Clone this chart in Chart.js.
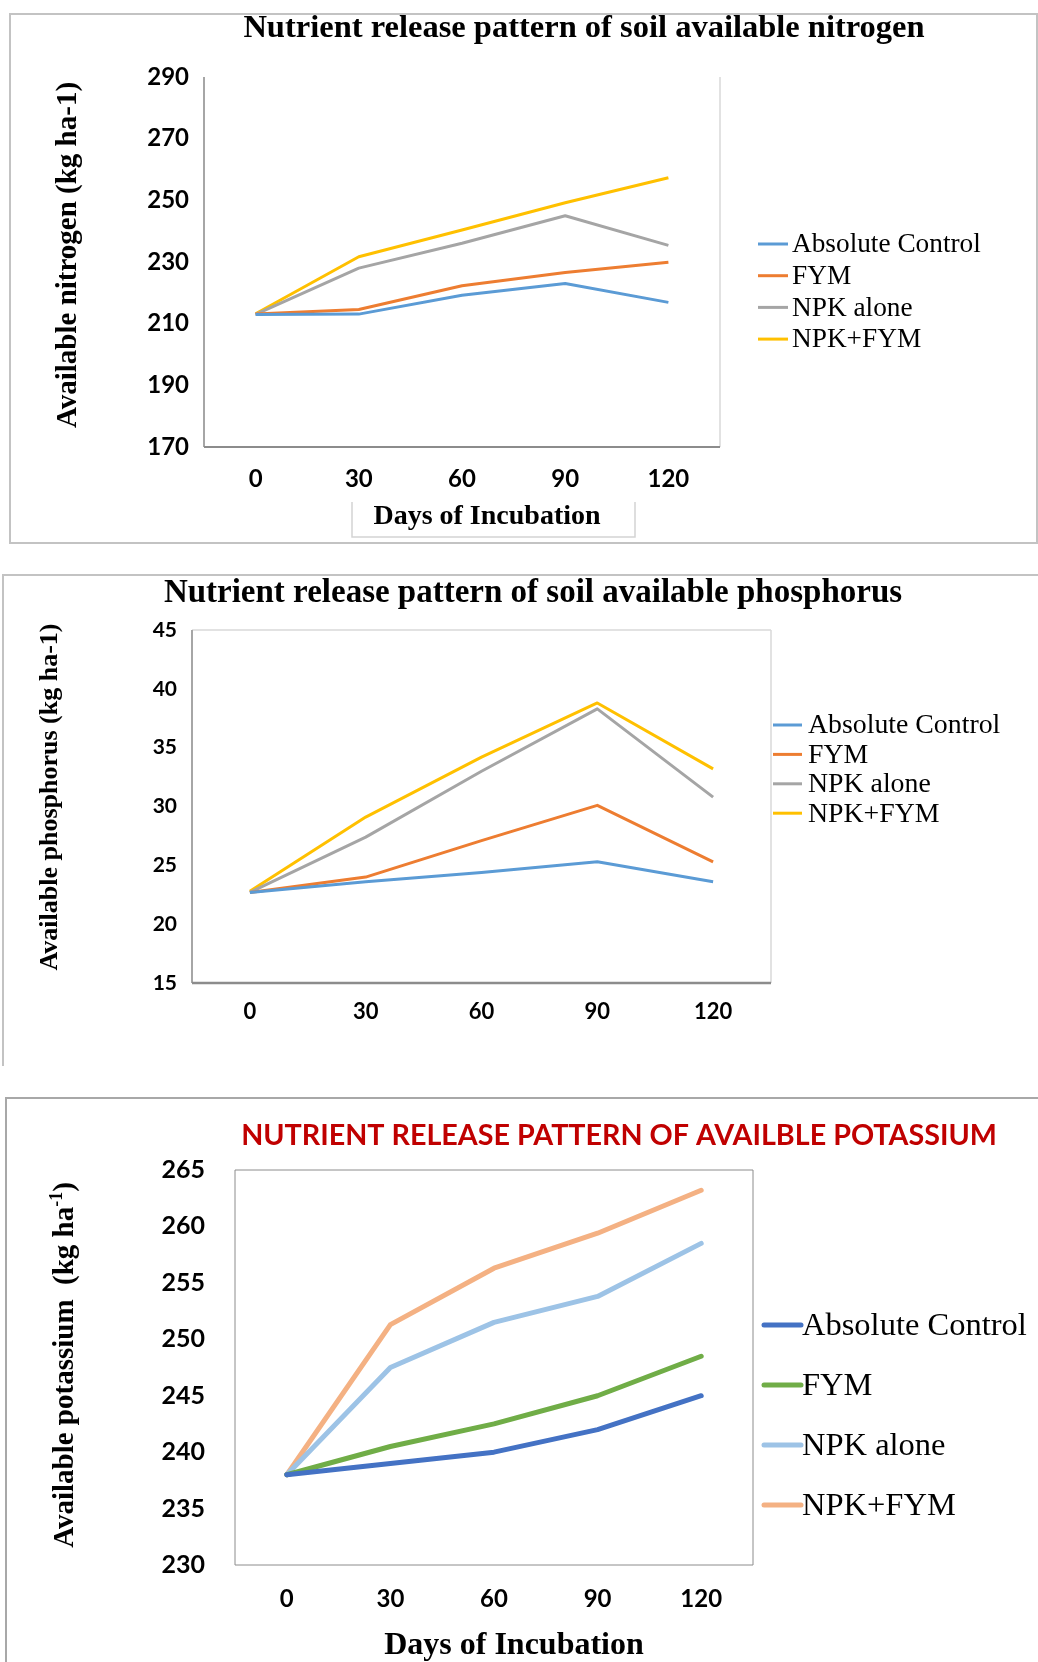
<!DOCTYPE html>
<html>
<head>
<meta charset="utf-8">
<script src="https://cdn.jsdelivr.net/npm/chart.js@4.4.1/dist/chart.umd.min.js"></script>
<style>
  html, body { margin: 0; padding: 0; background: #ffffff; }
  body { width: 1038px; height: 1662px; position: relative; overflow: hidden; }
  canvas { position: absolute; left: 0; }
  .ln { position: absolute; background: #c3c3c3; }
</style>
</head>
<body>
<div class="ln" style="left:9px;top:13px;width:1028px;height:1.5px;"></div>
<div class="ln" style="left:9px;top:542px;width:1028px;height:1.5px;"></div>
<div class="ln" style="left:9px;top:13px;width:1.5px;height:531px;"></div>
<div class="ln" style="left:1036px;top:13px;width:1.5px;height:531px;"></div>

<div class="ln" style="left:2px;top:574px;width:1036px;height:1.5px;"></div>
<div class="ln" style="left:2px;top:574px;width:1.5px;height:492px;"></div>

<div class="ln" style="left:5px;top:1097px;width:1033px;height:1.5px;background:#a8a8a8;"></div>
<div class="ln" style="left:5px;top:1097px;width:1.5px;height:565px;background:#a8a8a8;"></div>

<canvas id="c1" width="1038" height="560" style="top:0px"></canvas>
<canvas id="c2" width="1038" height="520" style="top:560px"></canvas>
<canvas id="c3" width="1038" height="582" style="top:1080px"></canvas>

<script>
// ---------- data ----------
const days = ['0', '30', '60', '90', '120'];
const seriesNames = ['Absolute Control', 'FYM', 'NPK alone', 'NPK+FYM'];

const nitrogenControl = [213.0, 213.1, 219.2, 223.0, 216.9];
const nitrogenFYM     = [213.1, 214.6, 222.3, 226.6, 229.9];
const nitrogenNPK     = [213.0, 228.0, 236.1, 245.0, 235.4];
const nitrogenNPKFYM  = [213.2, 231.7, 240.4, 249.2, 257.3];
const nitrogenTicks   = [170, 190, 210, 230, 250, 270, 290];

const phosphorusControl = [22.7, 23.6, 24.4, 25.3, 23.6];
const phosphorusFYM     = [22.7, 24.0, 27.1, 30.1, 25.3];
const phosphorusNPK     = [22.7, 27.4, 33.0, 38.3, 30.8];
const phosphorusNPKFYM  = [22.8, 29.1, 34.2, 38.8, 33.2];
const phosphorusTicks   = [15, 20, 25, 30, 35, 40, 45];

const potassiumControl = [238.0, 239.0, 240.0, 242.0, 245.0];
const potassiumFYM     = [238.0, 240.5, 242.5, 245.0, 248.5];
const potassiumNPK     = [238.0, 247.5, 251.5, 253.8, 258.5];
const potassiumNPKFYM  = [238.0, 251.3, 256.3, 259.4, 263.2];
const potassiumTicks   = [230, 235, 240, 245, 250, 255, 260, 265];

// ---------- styling ----------
const officeColors = ['#5B9BD5', '#ED7D31', '#A5A5A5', '#FFC000'];
const kColors = ['#4472C4', '#70AD47', '#9DC3E6', '#F4B183'];
const SERIF = '"Liberation Serif", "Times New Roman", serif';
const SANS = 'Lato, "Open Sans", sans-serif';

function drawRich(ctx, parts, cx, cy, rot) {
  ctx.save();
  ctx.translate(cx, cy);
  if (rot) ctx.rotate(rot);
  let total = 0;
  parts.forEach(p => { ctx.font = p.font; p.w = ctx.measureText(p.t).width; total += p.w; });
  let x = -total / 2;
  ctx.textBaseline = 'middle';
  ctx.textAlign = 'left';
  parts.forEach(p => {
    ctx.font = p.font;
    ctx.fillStyle = p.color || '#000';
    ctx.fillText(p.t, x, p.dy || 0);
    x += p.w;
  });
  ctx.restore();
}

const decor = {
  id: 'decor',
  afterDraw(chart, args, o) {
    const ctx = chart.ctx;
    const a = chart.chartArea;
    ctx.save();
    (o.frame || []).forEach(f => {
      ctx.beginPath();
      ctx.strokeStyle = f.color;
      ctx.lineWidth = f.width;
      if (f.side === 'left') { ctx.moveTo(a.left, a.top); ctx.lineTo(a.left, a.bottom); }
      if (f.side === 'right') { ctx.moveTo(a.right, a.top); ctx.lineTo(a.right, a.bottom); }
      if (f.side === 'top') { ctx.moveTo(a.left, a.top); ctx.lineTo(a.right, a.top); }
      if (f.side === 'bottom') { ctx.moveTo(a.left, a.bottom); ctx.lineTo(a.right, a.bottom); }
      ctx.stroke();
    });
    if (o.title) drawRich(ctx, [{ t: o.title.text, font: o.title.font, color: o.title.color }], o.title.x, o.title.y, 0);
    if (o.yTitle) drawRich(ctx, o.yTitle.parts, o.yTitle.x, o.yTitle.y, -Math.PI / 2);
    if (o.xTitle) {
      if (o.xTitle.box) {
        const b = o.xTitle.box;
        ctx.beginPath();
        ctx.strokeStyle = '#d4d4d4';
        ctx.lineWidth = 1.5;
        ctx.moveTo(b[0], b[1]); ctx.lineTo(b[0], b[3]); ctx.lineTo(b[2], b[3]); ctx.lineTo(b[2], b[1]);
        ctx.stroke();
      }
      drawRich(ctx, [{ t: o.xTitle.text, font: o.xTitle.font }], o.xTitle.x, o.xTitle.y, 0);
    }
    if (o.legend) {
      const L = o.legend;
      chart.data.datasets.forEach((ds, i) => {
        const y = L.y0 + i * L.dy;
        ctx.beginPath();
        ctx.strokeStyle = ds.borderColor;
        ctx.lineWidth = L.lineWidth;
        ctx.lineCap = L.cap || 'butt';
        ctx.moveTo(L.lineX, y);
        ctx.lineTo(L.lineX + L.len, y);
        ctx.stroke();
        ctx.font = L.font;
        ctx.fillStyle = '#000';
        ctx.textAlign = 'left';
        ctx.textBaseline = 'middle';
        ctx.fillText(ds.label, L.textX, y + 1);
      });
    }
    ctx.restore();
  }
};

function makeChart(id, values, colors, ticks, geo, lineW, decorOpts) {
  const datasets = values.map((v, i) => ({
    label: seriesNames[i],
    data: v,
    borderColor: colors[i],
    backgroundColor: colors[i],
    borderWidth: lineW,
    pointRadius: 0,
    pointHoverRadius: 0,
    tension: 0,
    fill: false,
    borderCapStyle: lineW > 4 ? 'round' : 'butt',
    borderJoinStyle: 'round'
  }));
  return new Chart(document.getElementById(id), {
    type: 'line',
    data: { labels: days, datasets },
    options: {
      responsive: false,
      animation: false,
      devicePixelRatio: 1,
      layout: { padding: { left: 0, top: geo.top, right: geo.right, bottom: 0 } },
      plugins: { legend: { display: false }, title: { display: false }, tooltip: { enabled: false }, decor: decorOpts },
      scales: {
        x: {
          type: 'category',
          offset: true,
          grid: { display: false, drawTicks: false },
          border: { display: false },
          ticks: { color: '#000', font: { family: SANS, weight: 'bold', size: geo.xSize }, padding: geo.xPad, maxRotation: 0, autoSkip: false },
          afterFit: s => { s.height = geo.xH; }
        },
        y: {
          min: ticks[0],
          max: ticks[ticks.length - 1],
          afterBuildTicks: s => { s.ticks = ticks.map(v => ({ value: v })); },
          grid: { display: false, drawTicks: false },
          border: { display: false },
          ticks: { color: '#000', font: { family: SANS, weight: 'bold', size: geo.ySize }, padding: geo.yPad },
          afterFit: s => { s.width = geo.yW; }
        }
      }
    },
    plugins: [decor]
  });
}

// ---------- chart 1: nitrogen ----------
makeChart('c1', [nitrogenControl, nitrogenFYM, nitrogenNPK, nitrogenNPKFYM], officeColors, nitrogenTicks,
  { top: 77, right: 318, yW: 204, xH: 113, xSize: 24, ySize: 24, xPad: 18, yPad: 15 }, 3,
  {
    frame: [
      { side: 'right', color: '#d9d9d9', width: 1.5 },
      { side: 'left', color: '#a6a6a6', width: 2 },
      { side: 'bottom', color: '#8c8c8c', width: 2 }
    ],
    title: { text: 'Nutrient release pattern of soil available nitrogen', font: 'bold 32.5px ' + SERIF, x: 584, y: 29 },
    yTitle: { x: 69, y: 255, parts: [{ t: 'Available nitrogen (kg ha-1)', font: 'bold 29px ' + SERIF }] },
    xTitle: { text: 'Days of Incubation', font: 'bold 28px ' + SERIF, x: 487, y: 517, box: [352, 502, 635, 537] },
    legend: { lineX: 758, len: 30, textX: 792, y0: 244, dy: 31.7, font: '27.3px ' + SERIF, lineWidth: 3 }
  });

// ---------- chart 2: phosphorus ----------
makeChart('c2', [phosphorusControl, phosphorusFYM, phosphorusNPK, phosphorusNPKFYM], officeColors, phosphorusTicks,
  { top: 70, right: 267, yW: 192, xH: 97, xSize: 22, ySize: 21, xPad: 16, yPad: 15 }, 3,
  {
    frame: [
      { side: 'top', color: '#d9d9d9', width: 1.5 },
      { side: 'right', color: '#d9d9d9', width: 1.5 },
      { side: 'left', color: '#a6a6a6', width: 2 },
      { side: 'bottom', color: '#8c8c8c', width: 2.5 }
    ],
    title: { text: 'Nutrient release pattern of soil available phosphorus', font: 'bold 33px ' + SERIF, x: 533, y: 33 },
    yTitle: { x: 50, y: 237, parts: [{ t: 'Available phosphorus (kg ha-1)', font: 'bold 26px ' + SERIF }] },
    legend: { lineX: 773, len: 29, textX: 808, y0: 165, dy: 29.4, font: '27.8px ' + SERIF, lineWidth: 3 }
  });

// ---------- chart 3: potassium ----------
makeChart('c3', [potassiumControl, potassiumFYM, potassiumNPK, potassiumNPKFYM], kColors, potassiumTicks,
  { top: 90, right: 285, yW: 235, xH: 97, xSize: 24, ySize: 25, xPad: 20, yPad: 30 }, 5,
  {
    frame: [
      { side: 'top', color: '#8c8c8c', width: 1 },
      { side: 'right', color: '#8c8c8c', width: 1 },
      { side: 'left', color: '#8c8c8c', width: 1 },
      { side: 'bottom', color: '#8c8c8c', width: 1 }
    ],
    title: { text: 'NUTRIENT RELEASE PATTERN OF AVAILBLE POTASSIUM', font: 'bold 28.7px ' + SANS, color: '#C00000', x: 619, y: 56 },
    yTitle: { x: 66, y: 285, parts: [
      { t: 'Available potassium  (kg ha', font: 'bold 29px ' + SERIF },
      { t: '-1', font: 'bold 18px ' + SERIF, dy: -9 },
      { t: ')', font: 'bold 29px ' + SERIF }
    ] },
    xTitle: { text: 'Days of Incubation', font: 'bold 32px ' + SERIF, x: 514, y: 566 },
    legend: { lineX: 764, len: 37, textX: 802, y0: 245, dy: 60, font: '32.5px ' + SERIF, lineWidth: 5, cap: 'round' }
  });
</script>
</body>
</html>
